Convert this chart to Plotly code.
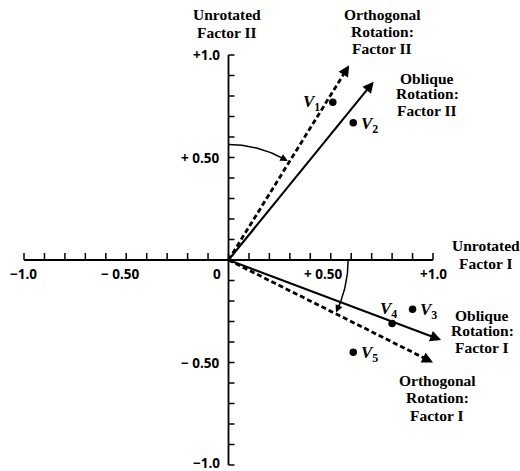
import numpy as np
import plotly.graph_objects as go

W, H = 520, 471
OX, OY = 228.5, 260.0      # pixel position of the origin
SX, SY = 204.5, 205.0      # pixels per unit loading

# ---------------- data ----------------
tick_vals = [-1.0, -0.9, -0.8, -0.7, -0.6, -0.5, -0.4, -0.3, -0.2, -0.1, 0.0,
             0.1, 0.2, 0.3, 0.4, 0.5, 0.6, 0.7, 0.8, 0.9, 1.0]
x_tick_labels = ["\u22121.0", "\u2212 0.50", "0", "+ 0.50", "+1.0"]
y_tick_labels = ["+1.0", "+ 0.50", "\u2212 0.50", "\u22121.0"]
y_tick_label_vals = [1.0, 0.5, -0.5, -1.0]

var_ids = ["1", "2", "3", "4", "5"]
var_f1 = [0.51, 0.61, 0.90, 0.80, 0.61]
var_f2 = [0.77, 0.67, -0.24, -0.31, -0.45]

rot_names = ["Orthogonal Factor II", "Oblique Factor II", "Oblique Factor I", "Orthogonal Factor I"]
rot_f1 = [0.59, 0.71, 1.04, 1.00]
rot_f2 = [0.95, 0.87, -0.39, -0.50]
rot_dashed = [True, False, False, True]

# rotation arcs: radius, start angle, end angle (degrees)
arc_radius = [0.563, 0.585]
arc_start = [90.0, 0.0]
arc_end = [59.0, -26.0]

# ---------------- helpers ----------------
def px(xp, yp):
    return xp / W, 1 - yp / H

fig = go.Figure()

# axes lines
fig.add_trace(go.Scatter(x=[-1.0, 1.0, None, 0, 0], y=[0, 0, None, -1.0, 1.0],
                         mode="lines", line=dict(color="black", width=1.8),
                         hoverinfo="skip", showlegend=False))
# ticks
hx, hy, vx, vy = [], [], [], []
tlen_h = 7 / SY
tlen_v = 6 / SX
for t in tick_vals:
    hx += [t, t, None]; hy += [0, tlen_h, None]
    vx += [0, tlen_v, None]; vy += [t, t, None]
fig.add_trace(go.Scatter(x=hx + vx, y=hy + vy, mode="lines",
                         line=dict(color="black", width=1.5),
                         hoverinfo="skip", showlegend=False))

annotations = []

# rotated factor vectors
for name, fx, fy, dashed in zip(rot_names, rot_f1, rot_f2, rot_dashed):
    L = np.hypot(fx, fy)
    ux, uy = fx / L, fy / L
    back = 0.035
    fig.add_trace(go.Scatter(x=[0, fx - ux * back], y=[0, fy - uy * back], mode="lines",
                             line=dict(color="black", width=2.8 if dashed else 2.1,
                                       dash="5px,3px" if dashed else "solid"),
                             name=name, hoverinfo="skip", showlegend=False))
    annotations.append(dict(x=fx, y=fy, ax=fx - ux * 0.06, ay=fy - uy * 0.06,
                            xref="x", yref="y", axref="x", ayref="y", text="",
                            showarrow=True, arrowhead=2, arrowsize=1.1, arrowwidth=2.0,
                            arrowcolor="black", standoff=0))

# arcs
for r, a0, a1 in zip(arc_radius, arc_start, arc_end):
    stop = a1 + (2 if a1 < a0 else -2)
    th = np.radians(np.linspace(a0, stop, 40))
    fig.add_trace(go.Scatter(x=r * np.cos(th), y=r * np.sin(th), mode="lines",
                             line=dict(color="black", width=1.5),
                             hoverinfo="skip", showlegend=False))
    te = np.radians(a1)
    tb = np.radians(a1 + (5 if a1 < a0 else -5))
    annotations.append(dict(x=r * np.cos(te), y=r * np.sin(te),
                            ax=r * np.cos(tb), ay=r * np.sin(tb),
                            xref="x", yref="y", axref="x", ayref="y", text="",
                            showarrow=True, arrowhead=2, arrowsize=1.0, arrowwidth=1.5,
                            arrowcolor="black", standoff=0))

# variables
fig.add_trace(go.Scatter(x=var_f1, y=var_f2, mode="markers",
                         marker=dict(color="black", size=7.5),
                         hoverinfo="skip", showlegend=False))

vfont = dict(family="Liberation Serif", size=17, color="black", weight=700)
v_anchor = ["right", "left", "left", "center", "left"]
v_xshift = [-11, 6, 5, -4, 6]
v_yshift = [-1, -2, -2, 14, -2]
for vid, fx, fy, xa, xs, ys in zip(var_ids, var_f1, var_f2, v_anchor, v_xshift, v_yshift):
    annotations.append(dict(x=fx, y=fy, xref="x", yref="y", text=f"<i>V</i><sub>{vid}</sub>",
                            showarrow=False, xanchor=xa, yanchor="middle",
                            xshift=xs, yshift=ys, font=vfont))

# tick labels
tfont = dict(family="Open Sans", size=13.5, color="black", weight=700)
x_label_px = [23, 120, 216.7, 323.3, 433]
for lab, xp in zip(x_tick_labels, x_label_px):
    X, Y = px(xp, 274)
    annotations.append(dict(x=X, y=Y, xref="paper", yref="paper", text=lab, showarrow=False,
                            xanchor="center", yanchor="middle", font=tfont))
y_label_py = [55, 157.5, 363, 463]
for lab, yp in zip(y_tick_labels, y_label_py):
    X, Y = px(222, yp)
    annotations.append(dict(x=X, y=Y, xref="paper", yref="paper", text=lab, showarrow=False,
                            xanchor="right", yanchor="middle", font=tfont))

# axis titles (one annotation per line for tight spacing)
lfont = dict(family="Liberation Serif", size=15.5, color="black", weight=700)
blocks = [
    (227, [15, 33], ["Unrotated", "Factor II"]),
    (382, [15, 31.7, 48.3], ["Orthogonal", "Rotation:", "Factor II"]),
    (427, [78.3, 94, 110.5], ["Oblique", "Rotation:", "Factor II"]),
    (486, [245, 263], ["Unrotated", "Factor I"]),
    (482, [315, 330.5, 347], ["Oblique", "Rotation:", "Factor I"]),
    (437, [380, 397.5, 415], ["Orthogonal", "Rotation:", "Factor I"]),
]
for xp, ys, lines in blocks:
    for yp, t in zip(ys, lines):
        X, Y = px(xp, yp)
        annotations.append(dict(x=X, y=Y, xref="paper", yref="paper", text=t, showarrow=False,
                                xanchor="center", yanchor="middle", font=lfont))

fig.update_layout(
    width=W, height=H, margin=dict(l=0, r=0, t=0, b=0),
    paper_bgcolor="white", plot_bgcolor="white",
    xaxis=dict(range=[-OX / SX, (W - OX) / SX], visible=False, fixedrange=True),
    yaxis=dict(range=[(OY - H) / SY, OY / SY], visible=False, fixedrange=True),
    annotations=annotations, showlegend=False,
)
fig.write_html("out.html", config={"displayModeBar": False},
               post_script="document.body.style.margin='0';document.body.style.overflow='hidden';")
